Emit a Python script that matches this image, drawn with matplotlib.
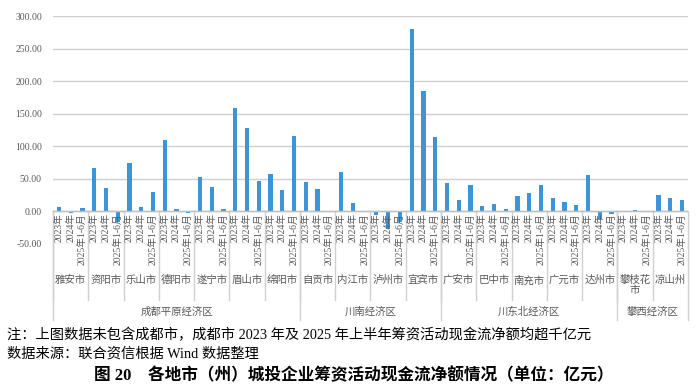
import matplotlib.pyplot as plt
import matplotlib.transforms as mtransforms

# Data (亿元)
regions = ['成都平原经济区', '川南经济区', '川东北经济区', '攀西经济区']
region_sizes = [7, 4, 5, 2]
cities = ['雅安市', '资阳市', '乐山市', '德阳市', '遂宁市', '眉山市', '绵阳市',
          '自贡市', '内江市', '泸州市', '宜宾市',
          '广安市', '巴中市', '南充市', '广元市', '达州市',
          '攀枝花\n市', '凉山州']
periods = ['2023年', '2024年', '2025年1-6月']
v2023 = [7, 67, 74, 109, 53, 158, 57, 45, 60, -5, 280, 44, 8, 23, 20, 56, 0, 25]
v2024 = [-3, 36, 6, 4, 38, 128, 32, 34, 12, -27, 184, 17, 11, 28, 14, -12, 2, 21]
v2025 = [5, -17, 29, -2, 4, 46, 115, 0, 0, -17, 114, 40, 4, 40, 9, -4, 0, 17]

W, H = 700, 387
FONT = ['Liberation Serif', 'Noto Sans CJK SC']
plt.rcParams['font.family'] = FONT
GRAY = '#595959'
LINE = '#d0d0d0'
BLUE = '#3d95d8'


def fy(py):
    return 1 - py / H


fig = plt.figure(figsize=(W / 100, H / 100), dpi=100)
ax = fig.add_axes([53 / W, fy(243.8), 635 / W, (243.8 - 16) / H])

values = []
for a, b, c in zip(v2023, v2024, v2025):
    values += [a, b, c]
xs = list(range(len(values)))
ax.bar(xs, values, width=0.36, color=BLUE, zorder=3)

ax.set_xlim(-0.5, len(values) - 0.5)
ax.set_ylim(-50, 300)
ax.set_yticks(range(-50, 301, 50))
ax.set_yticklabels([f'{v:.2f}' for v in range(-50, 301, 50)])
ax.tick_params(axis='y', length=0, pad=8, labelsize=7, labelcolor=GRAY)
ax.set_xticks([])
ax.yaxis.grid(True, color=LINE, linewidth=1)
ax.set_axisbelow(True)
for s in ax.spines.values():
    s.set_visible(False)
ax.axhline(0, color='#bfbfbf', linewidth=1, zorder=4)

# Multi-level category axis
tr = mtransforms.blended_transform_factory(ax.transData, fig.transFigure)
for i, v in enumerate(values):
    ax.text(i, fy(213), periods[i % 3], rotation=90, ha='center', va='top',
            fontsize=7, color=GRAY, transform=tr, zorder=5)

for k, name in enumerate(cities):
    ax.text(3 * k + 1, fy(275), name, ha='center', va='top', fontsize=7.5,
            color=GRAY, transform=tr, linespacing=1.1)
    ax.plot([3 * k - 0.5] * 2, [fy(211.3), fy(300)], color=LINE, lw=1,
            transform=tr, clip_on=False)

start = 0
for name, n in zip(regions, region_sizes):
    mid = 3 * (start + n / 2) - 0.5
    ax.text(mid, fy(312), name, ha='center', va='center', fontsize=7.5,
            color=GRAY, transform=tr)
    ax.plot([3 * start - 0.5] * 2, [fy(211.3), fy(320)], color=LINE, lw=1,
            transform=tr, clip_on=False)
    start += n
ax.plot([3 * start - 0.5] * 2, [fy(211.3), fy(320)], color=LINE, lw=1,
        transform=tr, clip_on=False)

# Notes and caption
fig.text(7 / W, fy(335), '注：上图数据未包含成都市，成都市 2023 年及 2025 年上半年筹资活动现金流净额均超千亿元',
         ha='left', va='center', fontsize=10.25)
fig.text(7 / W, fy(354), '数据来源：联合资信根据 Wind 数据整理',
         ha='left', va='center', fontsize=10.25)
fig.text(354 / W, fy(376), '图 20　各地市（州）城投企业筹资活动现金流净额情况（单位：亿元）',
         ha='center', va='center', fontsize=12, fontweight='bold')

fig.savefig('out.png', dpi=100)
